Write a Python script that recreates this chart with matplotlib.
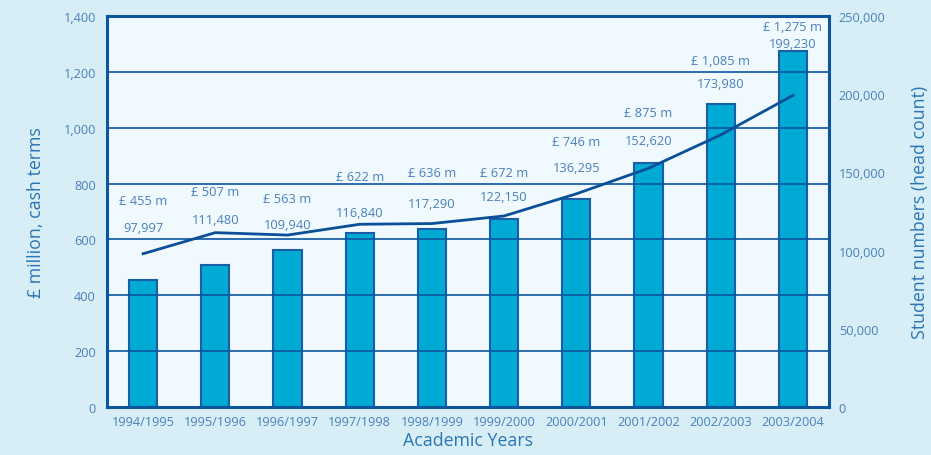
import matplotlib
matplotlib.use("Agg")
import matplotlib.pyplot as plt

years = ["1994/1995", "1995/1996", "1996/1997", "1997/1998", "1998/1999",
         "1999/2000", "2000/2001", "2001/2002", "2002/2003", "2003/2004"]
funding_m = [455, 507, 563, 622, 636, 672, 746, 875, 1085, 1275]
students = [97997, 111480, 109940, 116840, 117290, 122150, 136295, 152620, 173980, 199230]
money_labels = ["£ 455 m", "£ 507 m", "£ 563 m", "£ 622 m", "£ 636 m",
                "£ 672 m", "£ 746 m", "£ 875 m", "£ 1,085 m", "£ 1,275 m"]
student_labels = ["97,997", "111,480", "109,940", "116,840", "117,290",
                  "122,150", "136,295", "152,620", "173,980", "199,230"]
left_ticks = [0, 200, 400, 600, 800, 1000, 1200, 1400]
right_ticks = [0, 50000, 100000, 150000, 200000, 250000]

# label placement (layout, in left-axis units)
money_label_y = [741, 770, 748, 827, 841, 841, 952, 1056, 1242, 1361]
student_label_y = [641, 670, 655, 698, 727, 755, 859, 956, 1157, 1303]

BG = "#d8eef7"
FACE = "#f0f9fd"
DARK = "#0b559f"
BAR = "#00aad4"
TXT = "#4a80ba"
LBL = "#2a75b5"

plt.rcParams['font.family'] = ['Open Sans', 'DejaVu Sans']

fig = plt.figure(figsize=(9.31, 4.56), dpi=100, facecolor=BG)
ax = fig.add_axes([107/931, 1-408/456, 722/931, 391/456])
ax.set_facecolor(FACE)

x = list(range(len(years)))
ax.bar(x, funding_m, width=0.39, color=BAR, edgecolor="#1a5fa6", linewidth=1.5, zorder=2)
ax.set_xlim(-0.5, len(years) - 0.5)
ax.set_ylim(0, 1400)
ax.set_yticks(left_ticks)
ax.set_yticklabels([f"{v:,}" for v in left_ticks])
for v in left_ticks[1:-1]:
    ax.axhline(v, color=DARK, lw=1.2, zorder=3)

ax.set_xticks(x)
ax.set_xticklabels(years)
ax.tick_params(axis='both', length=0, colors=TXT, labelsize=9.2)
ax.tick_params(axis='x', pad=6)
ax.tick_params(axis='y', pad=8)
for s in ax.spines.values():
    s.set_color(DARK)
    s.set_linewidth(2.2)

ax2 = ax.twinx()
ax2.set_ylim(0, 250000)
ax2.plot(x, students, color="#0a4f98", lw=2, zorder=5)
ax2.set_yticks(right_ticks)
ax2.set_yticklabels([f"{v:,}" for v in right_ticks])
ax2.tick_params(axis='y', length=0, colors=TXT, labelsize=9.2, pad=7)
for s in ax2.spines.values():
    s.set_visible(False)

for i in x:
    ax.text(i, money_label_y[i], money_labels[i], ha='center', va='center',
            color=TXT, fontsize=9.3, zorder=6)
    ax.text(i, student_label_y[i], student_labels[i], ha='center', va='center',
            color=TXT, fontsize=9.3, zorder=6)

ax.set_ylabel("£ million, cash terms", color=LBL, fontsize=12.8, labelpad=13)
ax2.set_ylabel("Student numbers (head count)", color=LBL, fontsize=12.8, labelpad=18)
ax.set_xlabel("Academic Years", color=LBL, fontsize=12.8, labelpad=2)

fig.savefig("out.png", dpi=100, facecolor=BG)
